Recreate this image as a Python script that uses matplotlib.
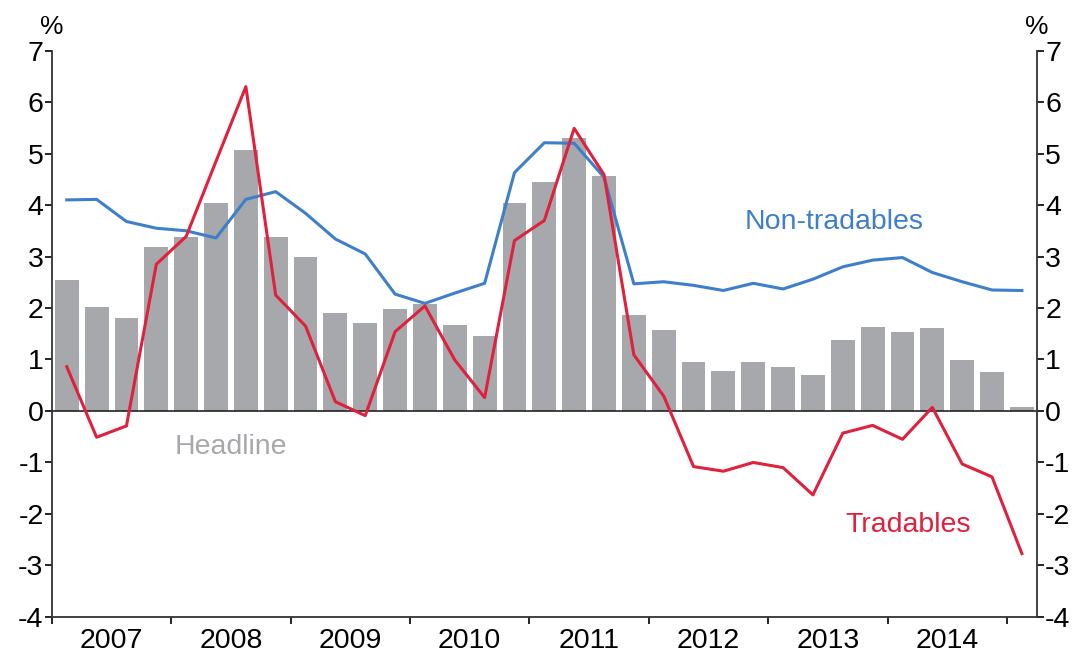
import matplotlib.pyplot as plt
import numpy as np

# Quarterly inflation components, 2007 Q1 to 2015 Q1
years = ['2007', '2008', '2009', '2010', '2011', '2012', '2013', '2014']
headline = [2.55, 2.01, 1.81, 3.18, 3.38, 4.04, 5.07, 3.38, 2.99, 1.90, 1.71,
            1.98, 2.08, 1.67, 1.46, 4.04, 4.45, 5.30, 4.57, 1.87, 1.57,
            0.96, 0.78, 0.96, 0.85, 0.69, 1.37, 1.64, 1.53, 1.61, 0.99, 0.76, 0.08]
tradables = [0.86, -0.51, -0.29, 2.85, 3.39, 4.85, 6.30, 2.25, 1.65, 0.18, -0.09,
             1.54, 2.04, 0.99, 0.26, 3.31, 3.70, 5.49, 4.59, 1.09, 0.29,
             -1.08, -1.17, -1.00, -1.10, -1.63, -0.43, -0.28, -0.55, 0.07, -1.03, -1.28, -2.77]
non_tradables = [4.10, 4.11, 3.68, 3.55, 3.50, 3.36, 4.11, 4.26, 3.84, 3.34, 3.05,
                 2.27, 2.09, 2.29, 2.48, 4.63, 5.21, 5.20, 4.54, 2.47, 2.51,
                 2.44, 2.34, 2.48, 2.37, 2.56, 2.80, 2.93, 2.98, 2.69, 2.51, 2.35, 2.34]

GREY = '#a6a8ab'
RED = '#e0203c'
BLUE = '#3d7fcb'

plt.rcParams['font.family'] = 'Liberation Sans'
plt.rcParams['font.size'] = 20.5
plt.rcParams['axes.unicode_minus'] = False  # plain hyphen on negative ticks


def plot_result(filename):
    '''
    Draw the headline bars with the tradables and non-tradables lines
    and save the figure to filename.
    '''

    fig = plt.figure(figsize=(10.8, 6.57), dpi=100)
    plt.axes([0.048, 0.061, 0.912, 0.862])
    x = np.arange(len(headline))

    plt.bar(x, headline, width=0.8, color=GREY, zorder=1)
    plt.axhline(0, color='#222222', linewidth=1.2, zorder=2)
    plt.plot(x, non_tradables, color=BLUE, linewidth=2.2, zorder=3)
    plt.plot(x, tradables, color=RED, linewidth=2.2, zorder=4)

    # Series labels written on the chart instead of a legend
    plt.text(25.7, 3.67, 'Non-tradables', color=BLUE, ha='center', va='center')
    plt.text(28.2, -2.22, 'Tradables', color=RED, ha='center', va='center')
    plt.text(5.5, -0.69, 'Headline', color=GREY, ha='center', va='center')

    plt.xlim(-0.5, len(headline) - 0.5)
    plt.ylim(-4, 7)
    plt.yticks(np.arange(-4, 8, 1))

    ax = plt.gca()
    # Year labels centred on each year, ticks on the year boundaries
    ax.set_xticks(np.arange(-0.5, len(headline), 4), minor=True)
    ax.set_xticks(np.arange(len(years)) * 4 + 1.5)
    ax.set_xticklabels(years)
    ax.tick_params(axis='x', which='major', length=0, pad=8)
    ax.tick_params(axis='x', which='minor', length=5, width=1.2, direction='out')
    ax.tick_params(axis='y', length=5, width=1.2, direction='out', pad=1,
                   left=True, right=True, labelleft=True, labelright=True)

    ax.spines['top'].set_visible(False)
    for side in ['left', 'right', 'bottom']:
        ax.spines[side].set_linewidth(1.3)
        ax.spines[side].set_color('#333333')

    plt.text(0.0, 1.02, '%', transform=ax.transAxes, ha='center', va='bottom',
             fontsize=19)
    plt.text(1.0, 1.02, '%', transform=ax.transAxes, ha='center', va='bottom',
             fontsize=19)

    plt.savefig(filename, dpi=100)


plot_result('out.png')
